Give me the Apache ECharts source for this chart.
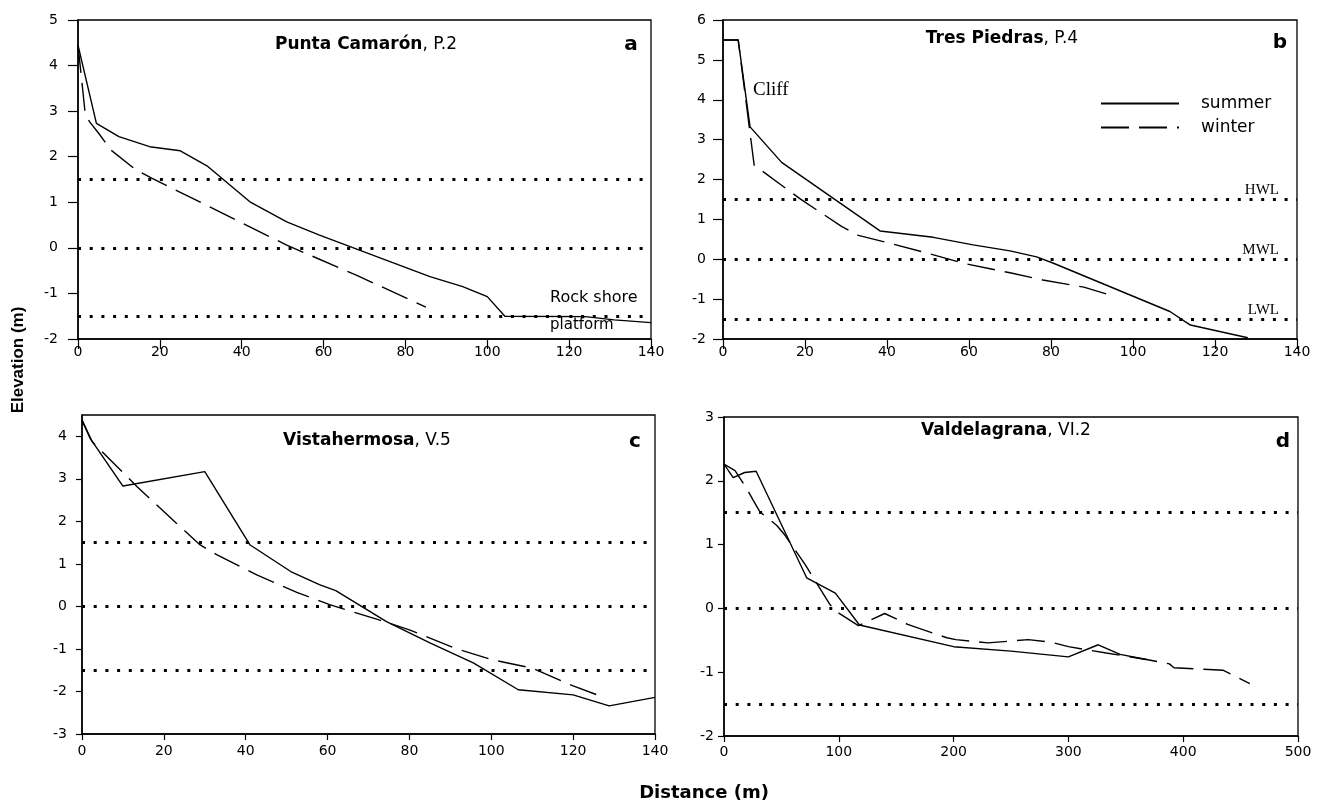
<!DOCTYPE html>
<html><head><meta charset="utf-8">
<script src="https://cdn.jsdelivr.net/npm/echarts@6/dist/echarts.min.js"></script>
<style>html,body{margin:0;padding:0;background:#fff}#c{width:1325px;height:807px}</style>
</head><body><div id="c"></div>
<script>
// ---------- data ----------
const seriesNames = ['summer', 'winter'];
const refLevels = [1.5, 0, -1.5];            // HWL, MWL, LWL
const panelTitles = ['Punta Camarón', 'Tres Piedras', 'Vistahermosa', 'Valdelagrana'];
const panelCodes = [', P.2', ', P.4', ', V.5', ', VI.2'];
const panelLetters = ['a', 'b', 'c', 'd'];
const xMax = [140, 140, 140, 500];
const xStep = [20, 20, 20, 100];
const yMin = [-2, -2, -3, -2];
const yMax = [5, 6, 4.5, 3];

// a: Punta Camarón
const aSummerDist = [0, 4.5, 10, 17.5, 25, 31.5, 42, 51, 59, 86, 94, 100, 104.3, 124, 131, 140];
const aSummerElev = [4.45, 2.73, 2.44, 2.22, 2.13, 1.80, 1.01, 0.57, 0.28, -0.63, -0.85, -1.07, -1.50, -1.51, -1.58, -1.64];
const aWinterDist = [0, 1.7, 2.8, 5, 8, 14, 18, 51, 68, 85];
const aWinterElev = [4.45, 3.0, 2.77, 2.52, 2.15, 1.72, 1.53, 0.06, -0.6, -1.3];
// b: Tres Piedras
const bSummerDist = [0, 3.7, 6.6, 14.3, 38.3, 51.3, 61, 70, 76.5, 80.6, 109, 114, 128];
const bSummerElev = [5.5, 5.5, 3.32, 2.43, 0.71, 0.55, 0.36, 0.21, 0.06, -0.10, -1.31, -1.65, -1.97];
const bWinterDist = [0, 3.7, 7.6, 19, 29, 33, 40, 50, 58.6, 70, 78, 88, 94.4];
const bWinterElev = [5.5, 5.5, 2.36, 1.5, 0.82, 0.6, 0.42, 0.15, -0.1, -0.34, -0.52, -0.7, -0.9];
// c: Vistahermosa
const cSummerDist = [0, 2, 10, 30, 41, 51, 58, 62, 74.4, 85, 95.6, 106.6, 120, 128.8, 140];
const cSummerElev = [4.38, 3.95, 2.83, 3.17, 1.45, 0.82, 0.51, 0.37, -0.36, -0.86, -1.33, -1.96, -2.08, -2.34, -2.14];
const cWinterDist = [0, 2.5, 13.4, 23, 28.8, 33, 42.7, 52.5, 60.5, 72, 80, 91, 100, 110, 120, 127];
const cWinterElev = [4.38, 3.87, 2.82, 1.96, 1.45, 1.21, 0.74, 0.33, 0.04, -0.3, -0.55, -0.98, -1.25, -1.45, -1.87, -2.12];
// d: Valdelagrana
const dSummerDist = [0, 8, 18, 28, 72, 97, 118, 200, 250, 300, 326, 345, 368];
const dSummerElev = [2.26, 2.05, 2.13, 2.15, 0.48, 0.24, -0.26, -0.6, -0.67, -0.76, -0.57, -0.72, -0.8];
const dWinterDist = [0, 9.6, 19.7, 25, 31.4, 46, 53, 70.6, 76.4, 92.3, 99.6, 117, 140, 160, 194, 202, 230, 265, 285, 300, 333, 368, 388, 392, 435, 458];
const dWinterElev = [2.26, 2.16, 1.88, 1.71, 1.51, 1.30, 1.15, 0.69, 0.52, 0.06, -0.07, -0.27, -0.08, -0.25, -0.46, -0.49, -0.54, -0.49, -0.53, -0.6, -0.7, -0.8, -0.87, -0.93, -0.97, -1.18];

const summerDist = [aSummerDist, bSummerDist, cSummerDist, dSummerDist];
const summerElev = [aSummerElev, bSummerElev, cSummerElev, dSummerElev];
const winterDist = [aWinterDist, bWinterDist, cWinterDist, dWinterDist];
const winterElev = [aWinterElev, bWinterElev, cWinterElev, dWinterElev];

// ---------- layout / style ----------
const grids = [
  {left: 78, top: 20, width: 573, height: 319},
  {left: 723, top: 20, width: 574, height: 319},
  {left: 82, top: 415, width: 573, height: 319},
  {left: 724, top: 417, width: 574, height: 319}
];
const tickLen = [10, 10, 6, 6];
const yLabelMargin = [20, 17, 15, 10];
const xLabelMargin = [6, 6, 10, 9];
const titlePos = [[366, 45], [1002, 39], [367, 441], [1006, 431]];
const letterPos = [[631, 45], [1280, 43], [635, 442], [1283, 442]];

const FONT = 'DejaVu Sans';
const zip = (xs, ys) => xs.map((x, i) => [x, ys[i]]);

const option = {
  animation: false,
  backgroundColor: '#fff',
  grid: grids.map(g => Object.assign({show: true, borderColor: '#000', borderWidth: 1.3, containLabel: false, outerBoundsMode: 'none'}, g)),
  xAxis: grids.map((g, i) => ({
    type: 'value', gridIndex: i, min: 0, max: xMax[i], interval: xStep[i],
    axisLine: {show: true, onZero: false, lineStyle: {color: '#000', width: 1.5}},
    axisTick: {show: true, inside: false, length: tickLen[i], lineStyle: {color: '#000', width: 1.2}},
    axisLabel: {color: '#000', fontFamily: FONT, fontSize: 14, margin: xLabelMargin[i]},
    splitLine: {show: false}
  })),
  yAxis: grids.map((g, i) => ({
    type: 'value', gridIndex: i, min: yMin[i], max: yMax[i], interval: 1,
    axisLine: {show: true, onZero: false, lineStyle: {color: '#000', width: 1.5}},
    axisTick: {show: true, inside: false, length: tickLen[i], lineStyle: {color: '#000', width: 1.2}},
    axisLabel: {color: '#000', fontFamily: FONT, fontSize: 14, margin: yLabelMargin[i], showMaxLabel: i !== 2,
      formatter: v => (Number.isInteger(v) ? String(v) : '')},
    splitLine: {show: false}
  })),
  legend: {
    left: 1095, top: 90, orient: 'vertical', itemWidth: 78, itemHeight: 20, itemGap: 7,
    selectedMode: false, data: seriesNames,
    itemStyle: {color: 'transparent', borderColor: 'transparent', borderWidth: 0, opacity: 0},
    textStyle: {fontFamily: FONT, fontSize: 17, color: '#000', padding: [0, 0, 0, 17]}
  },
  series: []
};

for (let i = 0; i < 4; i++) {
  option.series.push({
    name: seriesNames[0], type: 'line', xAxisIndex: i, yAxisIndex: i,
    data: zip(summerDist[i], summerElev[i]), symbol: 'none', silent: true,
    lineStyle: {color: '#000', width: 1.4, type: 'solid'}, itemStyle: {color: '#000'},
    markLine: {
      silent: true, symbol: ['none', 'none'], label: {show: false},
      lineStyle: {color: '#000', width: 3, type: [3, 8.7], cap: 'butt'},
      data: refLevels.map(v => ({yAxis: v}))
    }
  });
  option.series.push({
    name: seriesNames[1], type: 'line', xAxisIndex: i, yAxisIndex: i,
    data: zip(winterDist[i], winterElev[i]), symbol: 'none', silent: true,
    lineStyle: {color: '#000', width: 1.4, type: [28, 10]}, itemStyle: {color: '#000'}
  });
}

const graphics = [];
for (let i = 0; i < 4; i++) {
  graphics.push({
    type: 'text', x: titlePos[i][0], y: titlePos[i][1],
    style: {
      text: '{b|' + panelTitles[i] + '}{n|' + panelCodes[i] + '}',
      align: 'center', verticalAlign: 'middle', fill: '#000',
      rich: {
        b: {fontFamily: FONT, fontSize: 17, fontWeight: 'bold', fill: '#000'},
        n: {fontFamily: FONT, fontSize: 17, fontWeight: 'normal', fill: '#000'}
      }
    }
  });
  graphics.push({
    type: 'text', x: letterPos[i][0], y: letterPos[i][1],
    style: {text: panelLetters[i], align: 'center', verticalAlign: 'middle', fill: '#000',
      font: 'bold 20px "DejaVu Sans"'}
  });
}
// annotations
graphics.push({type: 'text', x: 550, y: 298, style: {text: 'Rock shore', align: 'left', verticalAlign: 'middle', fill: '#000', font: '16px "DejaVu Sans"'}});
graphics.push({type: 'text', x: 550, y: 325, style: {text: 'platform', align: 'left', verticalAlign: 'middle', fill: '#000', font: '15px "DejaVu Sans"'}});
graphics.push({type: 'text', x: 753, y: 90, style: {text: 'Cliff', align: 'left', verticalAlign: 'middle', fill: '#000', font: '19px "Liberation Serif"'}});
const wlNames = ['HWL', 'MWL', 'LWL'];
const wlY = [190, 250, 310];
wlNames.forEach((t, k) => graphics.push({type: 'text', x: 1279, y: wlY[k], style: {text: t, align: 'right', verticalAlign: 'middle', fill: '#000', font: '15px "Liberation Serif"'}}));
// axis titles
graphics.push({type: 'text', x: 18, y: 360, rotation: Math.PI / 2, style: {text: 'Elevation (m)', align: 'center', verticalAlign: 'middle', fill: '#000', font: 'bold 17px "Liberation Sans"'}});
graphics.push({type: 'text', x: 704, y: 793, style: {text: 'Distance (m)', align: 'center', verticalAlign: 'middle', fill: '#000', font: 'bold 18px "DejaVu Sans"'}});
option.graphic = graphics;

const chart = echarts.init(document.getElementById('c'), null, {renderer: 'canvas'});
chart.setOption(option);
</script>
</body></html>
